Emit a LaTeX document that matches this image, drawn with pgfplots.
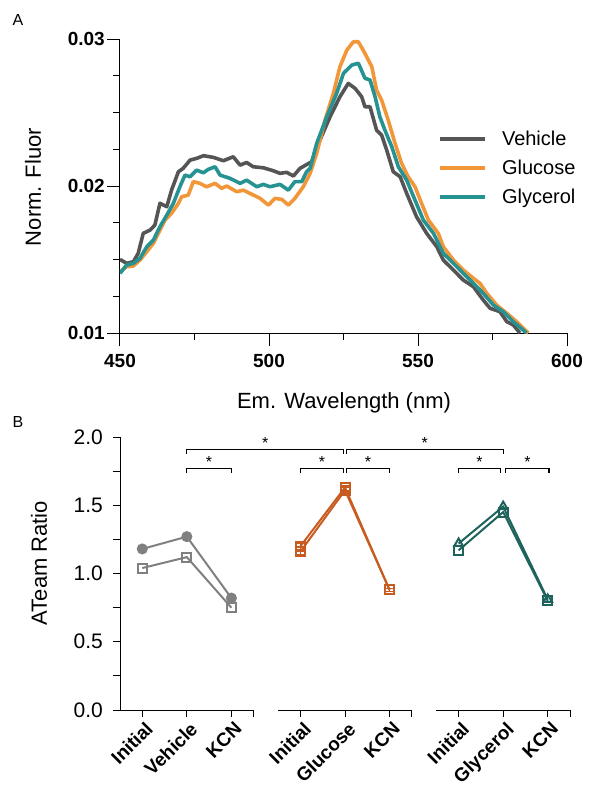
\documentclass[border=0pt]{standalone}
\usepackage{pgfplots}
\pgfplotsset{compat=1.18}
\usepackage{fontspec}
\setmainfont{Liberation Sans}
\definecolor{cveh}{RGB}{85,85,85}
\definecolor{cglu}{RGB}{242,150,58}
\definecolor{cgly}{RGB}{38,146,146}
\definecolor{bveh}{RGB}{128,128,128}
\definecolor{bglu}{RGB}{200,92,32}
\definecolor{bgly}{RGB}{30,98,92}
\begin{document}
\begin{tikzpicture}
\useasboundingbox (0pt,0pt) rectangle (589pt,-788pt);
% ---------------- Panel A ----------------
\begin{axis}[
  at={(120pt,-333pt)}, anchor=south west,
  scale only axis, width=447pt, height=294pt,
  xmin=450, xmax=600, ymin=0.01, ymax=0.03,
  axis x line=bottom, axis y line=left, axis line style={-, line width=1pt},
  tick align=outside, scaled y ticks=false, scaled x ticks=false,
  xtick={450,500,550,600}, minor xtick={475,525,575},
  ytick={0.01,0.02,0.03}, yticklabels={0.01,0.02,0.03},
  minor ytick={0.0125,0.015,0.0175,0.0225,0.025,0.0275},
  major tick length=13pt, minor tick length=7pt,
  every tick/.style={line width=1pt, black},
  tick label style={font=\fontsize{19}{22}\selectfont\bfseries},
  /pgf/number format/assume math mode=true,
  xticklabel style={inner sep=2pt, yshift=-6pt},
  yticklabel style={inner sep=2pt},
  legend style={at={(0.711,0.695)}, anchor=north west, draw=none, fill=none,
    font=\fontsize{20}{23}\selectfont, row sep=9pt, inner sep=0pt},
  legend cell align=left,
  legend image code/.code={\draw[#1, line width=4pt] (0pt,0pt) -- (45pt,0pt);},
  /tikz/every odd column/.append style={column sep=13pt},
]
\addplot[cveh, line width=3.6pt, line join=round] coordinates {
(450,0.01501)(452.2,0.01474)(454.5,0.01485)(456.1,0.01542)(457.8,0.01678)(460.1,0.0170)
(461.7,0.01734)(463.4,0.01882)(465.7,0.01859)(467.3,0.01972)(469.6,0.02097)(471.2,0.0212)
(473.5,0.02176)(475.7,0.02188)(478,0.02206)(481.3,0.02195)(484.7,0.02172)(488,0.02199)
(490.3,0.02142)(492.5,0.0216)(494.7,0.02131)(498.1,0.02124)(501.4,0.02104)(503.7,0.02086)
(505.9,0.02093)(508.2,0.02068)(510.4,0.0212)(514.3,0.02165)(517.1,0.02312)(520.5,0.02471)
(523.8,0.02607)(526.6,0.02698)(528.9,0.02664)(531.1,0.02607)(532.2,0.02539)(533.9,0.02539)
(536.1,0.0238)(537.8,0.02346)(539.5,0.02244)(541.7,0.02097)(544,0.02063)(546.2,0.0195)
(549.5,0.01791)(552.9,0.01678)(556.3,0.01587)(558.5,0.01496)(561.9,0.01428)(565.2,0.0136)
(568.6,0.01315)(571.9,0.01224)(574.2,0.01168)(577.5,0.01145)(579.8,0.01077)(582,0.01054)
(584.2,0.0100)};
\addlegendentry{Vehicle}
\addplot[cglu, line width=3.6pt, line join=round] coordinates {
(450,0.01417)(452.2,0.01451)(454.5,0.01456)(456.7,0.01496)(459,0.01553)(461.2,0.0161)
(462.9,0.01678)(465.1,0.01768)(467.3,0.01814)(469.6,0.01882)(470.7,0.01927)(472.9,0.01938)
(474.6,0.0203)(476.8,0.02018)(479.1,0.01995)(481.9,0.02018)(484.1,0.01984)(485.8,0.0200)
(489.2,0.01961)(491.4,0.01972)(493.6,0.0195)(497,0.01916)(499.8,0.0187)(502,0.01916)
(504.3,0.01909)(506.5,0.0187)(508.7,0.01916)(511.5,0.01995)(513.8,0.02086)(516,0.02222)
(518.8,0.02448)(521.6,0.0263)(523.8,0.02811)(526.1,0.02924)(528.3,0.02981)(530,0.02981)
(532.2,0.02902)(534.5,0.02811)(536.1,0.02652)(537.8,0.02584)(540,0.02448)(542.3,0.0229)
(544.5,0.02154)(546.7,0.02063)(549,0.01995)(551.2,0.01882)(553.5,0.01768)(556.8,0.01678)
(558.5,0.01587)(561.9,0.01496)(565.2,0.01428)(568.6,0.01372)(570.8,0.01338)(573.1,0.0127)
(576.4,0.0119)(579.8,0.01134)(583.1,0.01077)(587,0.0100)};
\addlegendentry{Glucose}
\addplot[cgly, line width=3.6pt, line join=round] coordinates {
(450,0.01406)(452.2,0.01462)(454.5,0.01474)(456.7,0.01508)(459,0.01587)(461.2,0.01632)
(463.4,0.01723)(465.7,0.01802)(467.9,0.01882)(470.1,0.01995)(471.8,0.02074)(473.5,0.02063)
(475.7,0.02108)(478,0.0209)(479.6,0.02113)(481.9,0.02131)(483.6,0.02074)(486.9,0.02052)
(490.3,0.02018)(492.5,0.0204)(495.9,0.01995)(498.1,0.02011)(500.3,0.01995)(503.7,0.02011)
(506.5,0.01972)(508.7,0.0203)(511,0.0203)(512.6,0.02097)(513.8,0.0212)(516,0.0229)
(519.4,0.02471)(522.7,0.0263)(525,0.02767)(527.8,0.02823)(530,0.02835)(532.2,0.02733)
(533.9,0.02721)(535.6,0.02607)(537.2,0.02471)(538.9,0.0238)(541.2,0.02267)(543.4,0.02131)
(546.2,0.0204)(549,0.01904)(551.8,0.01768)(555.2,0.01678)(558.5,0.01542)(561.9,0.01474)
(565.2,0.01406)(568.6,0.01338)(571.9,0.0127)(575.3,0.0119)(578.6,0.01145)(582,0.01077)
(585.3,0.0102)(586.4,0.0100)};
\addlegendentry{Glycerol}
\end{axis}
% ---------------- Panel B ----------------
\begin{axis}[
  at={(120pt,-710pt)}, anchor=south west,
  scale only axis, width=450pt, height=273pt,
  xmin=-0.5, xmax=9.6, ymin=0, ymax=2.0,
  axis x line=bottom, axis y line=left, axis line style={-, line width=1pt},
  x axis line style={draw=none},
  tick align=outside, clip=false,
  xtick={0,1,2,2.5,3.55,4.55,5.55,6.05,7.1,8.1,9.1,9.6},
  xticklabels={Initial,Vehicle,KCN,,Initial,Glucose,KCN,,Initial,Glycerol,KCN,},
  ytick={0,0.5,1,1.5,2}, yticklabels={0.0,0.5,1.0,1.5,2.0},
  minor ytick={0.25,0.75,1.25,1.75},
  major tick length=7pt, minor tick length=7pt,
  every tick/.style={line width=1pt, black},
  /pgf/number format/assume math mode=true,
  yticklabel style={font=\fontsize{21}{24}\selectfont, inner sep=2pt, xshift=-8pt},
  xticklabel style={font=\fontsize{19}{22}\selectfont\bfseries, rotate=45, anchor=north east, inner sep=1pt, yshift=-3pt},
]
% broken x axis
\draw[line width=1pt] (axis cs:-0.5,0) -- (axis cs:2.5,0);
\draw[line width=1pt] (axis cs:3.05,0) -- (axis cs:6.05,0);
\draw[line width=1pt] (axis cs:6.6,0) -- (axis cs:9.6,0);
% Vehicle
\addplot[bveh, line width=2pt, mark=*, mark size=4.5pt, mark options={fill=bveh}] coordinates {(0,1.18)(1,1.27)(2,0.82)};
\addplot[bveh, line width=2pt, mark=square, mark size=4.5pt, mark options={fill=white}] coordinates {(0,1.04)(1,1.12)(2,0.75)};
% Glucose
\addplot[bglu, line width=2pt, mark=square, mark size=4.5pt, mark options={fill=white},
  error bars/.cd, y dir=both, y explicit] coordinates {(3.55,1.20) +- (0,0.02) (4.55,1.63) +- (0,0.02) (5.55,0.88) +- (0,0.01)};
\addplot[bglu, line width=2pt, mark=square, mark size=4.5pt, mark options={fill=white},
  error bars/.cd, y dir=both, y explicit] coordinates {(3.55,1.16) +- (0,0.02) (4.55,1.61) +- (0,0.02) (5.55,0.88) +- (0,0.01)};
% Glycerol
\addplot[bgly, line width=2pt, mark=triangle, mark size=5pt, mark options={fill=white}] coordinates {(7.1,1.22)(8.1,1.49)(9.1,0.81)};
\addplot[bgly, line width=2pt, mark=square, mark size=4.5pt, mark options={fill=white}] coordinates {(7.1,1.17)(8.1,1.45)(9.1,0.80)};
% significance brackets
\def\brk#1#2#3{\draw[line width=1.2pt] ([yshift=-5pt]axis cs:#1,#3) -- (axis cs:#1,#3) -- (axis cs:#2,#3) -- ([yshift=-5pt]axis cs:#2,#3);
  \node[font=\fontsize{16}{16}\selectfont, anchor=south, inner sep=1pt] at (axis cs:{(#1+#2)/2},#3) {*};}
\brk{1}{4.52}{1.91}
\brk{4.58}{8.1}{1.91}
\brk{1}{2}{1.77}
\brk{3.55}{4.52}{1.77}
\brk{4.58}{5.55}{1.77}
\brk{7.1}{8.04}{1.77}
\brk{8.16}{9.13}{1.77}
\end{axis}
% labels
\node[font=\fontsize{16}{18}\selectfont] at (18pt,-20pt) {A};
\node[font=\fontsize{16}{18}\selectfont] at (18pt,-422pt) {B};
\node[font=\fontsize{22}{26}\selectfont, rotate=90] at (33pt,-187pt) {Norm. Fluor};
\node[font=\fontsize{22}{26}\selectfont] at (344pt,-403pt) {Em. Wavelength (nm)};
\node[font=\fontsize{22}{26}\selectfont, rotate=90] at (39pt,-563pt) {ATeam Ratio};
\end{tikzpicture}
\end{document}
